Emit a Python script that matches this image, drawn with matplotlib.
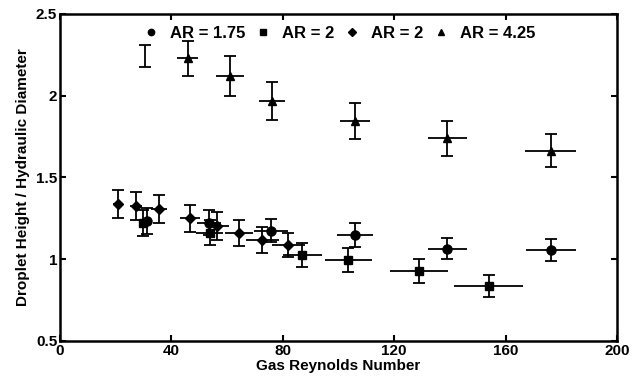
import matplotlib
matplotlib.use('Agg')
import matplotlib.pyplot as plt

# AR = 1.75 (circles)
re_c = [31.1, 53.5, 75.9, 105.9, 139.0, 176.2]
h_c = [1.234, 1.224, 1.173, 1.148, 1.063, 1.059]
xe_c = [1.5, 4.4, 6.1, 6.5, 7.0, 8.9]
ye_c = [0.08, 0.075, 0.07, 0.072, 0.064, 0.067]

# AR = 2 (squares)
re_s = [29.7, 53.7, 87.0, 103.5, 128.9, 153.9]
h_s = [1.224, 1.162, 1.027, 0.995, 0.926, 0.836]
xe_s = [1.5, 4.8, 7.0, 8.4, 10.4, 12.5]
ye_s = [0.08, 0.078, 0.072, 0.075, 0.073, 0.07]

# AR = 2 (diamonds)
re_d = [20.7, 27.4, 35.5, 46.7, 56.5, 64.3, 72.6, 82.0]
h_d = [1.338, 1.326, 1.306, 1.25, 1.205, 1.159, 1.118, 1.087]
xe_d = [1.7, 2.1, 2.8, 3.6, 4.2, 5.0, 5.9, 6.0]
ye_d = [0.087, 0.085, 0.087, 0.084, 0.085, 0.08, 0.08, 0.076]

# AR = 4.25 (triangles); first point shows only its y error bar
re_t = [45.8, 61.0, 76.0, 105.9, 139.0, 176.2]
h_t = [2.229, 2.121, 1.968, 1.846, 1.739, 1.664]
xe_t = [3.9, 4.9, 4.7, 5.4, 7.0, 9.1]
ye_t = [0.107, 0.125, 0.117, 0.11, 0.107, 0.103]
re_t0 = [30.5]
h_t0 = [2.243]
ye_t0 = [0.065]

plt.rcParams['font.family'] = ['Liberation Sans', 'DejaVu Sans']
plt.rcParams['font.weight'] = 'bold'

fig = plt.figure(figsize=(6.33, 3.78), dpi=100)
ax = fig.add_axes([0.0948, 0.098, 0.880, 0.865])

series = [
    (re_c, h_c, xe_c, ye_c, 'o', 6.5, 'AR = 1.75'),
    (re_s, h_s, xe_s, ye_s, 's', 6, 'AR = 2'),
    (re_d, h_d, xe_d, ye_d, 'D', 5.5, 'AR = 2'),
    (re_t, h_t, xe_t, ye_t, '^', 6, 'AR = 4.25'),
]
handles = []
for x, y, xe, ye, mk, ms, lab in series:
    ax.errorbar(x, y, xerr=xe, fmt='none', ecolor='black', elinewidth=1.3,
                capsize=0, zorder=2)
    ax.errorbar(x, y, yerr=ye, fmt='none', ecolor='black', elinewidth=1.3,
                capsize=4.5, capthick=1.3, zorder=2)
    h, = ax.plot(x, y, mk, color='black', ms=ms, zorder=3, label=lab)
    handles.append(h)
ax.errorbar(re_t0, h_t0, yerr=ye_t0, fmt='none', ecolor='black',
            elinewidth=1.3, capsize=4.5, capthick=1.3)

ax.set_xlim(0, 200)
ax.set_ylim(0.5, 2.5)
ax.set_xticks([0, 40, 80, 120, 160, 200])
ax.set_yticks([0.5, 1, 1.5, 2, 2.5])
ax.set_yticklabels(['0.5', '1', '1.5', '2', '2.5'])
ax.tick_params(direction='in', length=4, width=1.5, labelsize=11,
               top=True, right=True, pad=2)
for s in ax.spines.values():
    s.set_linewidth(1.8)

ax.set_xlabel('Gas Reynolds Number', fontsize=11, fontweight='bold', labelpad=1)
ax.set_ylabel('Droplet Height / Hydraulic Diameter', fontsize=11,
              fontweight='bold', labelpad=4)

leg = ax.legend(handles=handles, loc='upper center', ncol=4, frameon=False,
                fontsize=12, markerscale=0.7, handlelength=0.9,
                handletextpad=0.7, columnspacing=0.6,
                bbox_to_anchor=(0.502, 1.0), borderaxespad=0.3)

fig.savefig('out.png', dpi=100)
